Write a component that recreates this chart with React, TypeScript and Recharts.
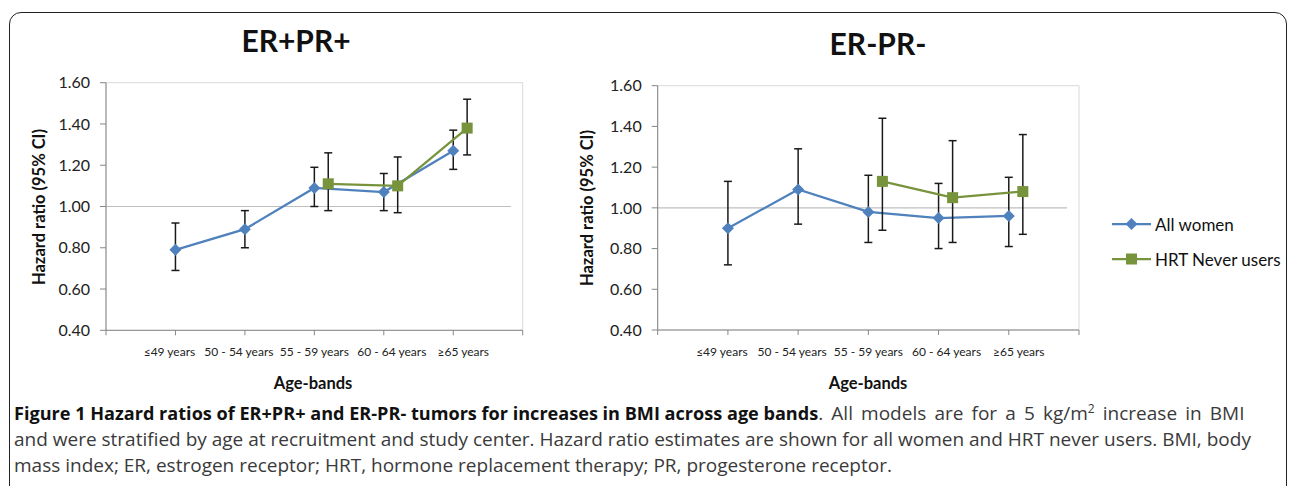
import {
  ComposedChart,
  Line,
  XAxis,
  YAxis,
  ErrorBar,
  ReferenceLine,
  ReferenceArea,
} from "recharts";

// Values (hazard ratio, lower / upper 95% CI)
const AGE_BANDS = ["≤49 years", "50 - 54 years", "55 - 59 years", "60 - 64 years", "≥65 years"];
const Y_TICKS = [0.4, 0.6, 0.8, 1.0, 1.2, 1.4, 1.6];

const POS_ALL_HR = [0.79, 0.89, 1.09, 1.07, 1.27];
const POS_ALL_LO = [0.69, 0.8, 1.0, 0.98, 1.18];
const POS_ALL_HI = [0.92, 0.98, 1.19, 1.16, 1.37];
const POS_HRT_HR = [null, null, 1.11, 1.1, 1.38];
const POS_HRT_LO = [null, null, 0.98, 0.97, 1.25];
const POS_HRT_HI = [null, null, 1.26, 1.24, 1.52];

const NEG_ALL_HR = [0.9, 1.09, 0.98, 0.95, 0.96];
const NEG_ALL_LO = [0.72, 0.92, 0.83, 0.8, 0.81];
const NEG_ALL_HI = [1.13, 1.29, 1.16, 1.12, 1.15];
const NEG_HRT_HR = [null, null, 1.13, 1.05, 1.08];
const NEG_HRT_LO = [null, null, 0.89, 0.83, 0.87];
const NEG_HRT_HI = [null, null, 1.44, 1.33, 1.36];

const BLUE = "#4f81bd";
const GREEN = "#77933c";
const AXIS = "#868686";
const FONT = "Lato, 'Liberation Sans', sans-serif";

// Excel nudges the category labels a little; mimic that
const TICK_NUDGE = [-6, -6, 0, 8, 10];

type Row = { x: number; hr: number; err: [number, number] };

// Build rows for one series; HRT points sit slightly right of the category
function rows(hr: (number | null)[], lo: (number | null)[], hi: (number | null)[], shift: number): Row[] {
  const out: Row[] = [];
  hr.forEach((v, i) => {
    if (v == null) return;
    out.push({ x: i + 1 + shift, hr: v, err: [v - (lo[i] as number), (hi[i] as number) - v] });
  });
  return out;
}

function XTick(props: any) {
  const { x, y, payload } = props;
  const i = payload.value - 1;
  if (i < 0 || i >= AGE_BANDS.length) return <g />;
  return (
    <text x={x + TICK_NUDGE[i]} y={y + 19} textAnchor="middle" fontSize={12} fill="#222" fontFamily={FONT}>
      {AGE_BANDS[i]}
    </text>
  );
}

function Diamond(props: any) {
  const { cx, cy } = props;
  if (cx == null || cy == null) return <g />;
  const r = 6;
  return <polygon points={`${cx},${cy - r} ${cx + r},${cy} ${cx},${cy + r} ${cx - r},${cy}`} fill={BLUE} />;
}

function Square(props: any) {
  const { cx, cy } = props;
  if (cx == null || cy == null) return <g />;
  const s = 11;
  return <rect x={cx - s / 2} y={cy - s / 2} width={s} height={s} fill={GREEN} />;
}

function Panel({
  all,
  hrt,
  margin,
}: {
  all: Row[];
  hrt: Row[];
  margin: { top: number; right: number; left: number; bottom: number };
}) {
  return (
    <ComposedChart width={540} height={320} margin={margin}>
      <ReferenceArea x1={0} x2={6} y1={0.4} y2={1.6} fill="#fff" stroke="#d9d9d9" strokeWidth={1} />
      <ReferenceLine
        segment={[
          { x: 0, y: 1 },
          { x: 5.83, y: 1 },
        ]}
        stroke="#bfbfbf"
        strokeWidth={1.2}
      />
      <XAxis
        type="number"
        dataKey="x"
        domain={[0, 6]}
        ticks={[0, 1, 2, 3, 4, 5, 6]}
        allowDataOverflow
        height={40}
        stroke={AXIS}
        tickSize={5}
        tick={<XTick />}
      />
      <YAxis
        type="number"
        domain={[0.4, 1.6]}
        ticks={Y_TICKS}
        width={50}
        stroke={AXIS}
        tickSize={6}
        tickMargin={10}
        tickFormatter={(v: number) => v.toFixed(2)}
        tick={{ fill: "#222", fontSize: 16, fontFamily: FONT }}
      />
      <Line
        data={all}
        dataKey="hr"
        stroke={BLUE}
        strokeWidth={2.25}
        dot={<Diamond />}
        activeDot={false}
        isAnimationActive={false}
      >
        <ErrorBar dataKey="err" width={4} stroke="#1a1a1a" strokeWidth={1.5} />
      </Line>
      <Line
        data={hrt}
        dataKey="hr"
        stroke={GREEN}
        strokeWidth={2.25}
        dot={<Square />}
        activeDot={false}
        isAnimationActive={false}
      >
        <ErrorBar dataKey="err" width={4} stroke="#1a1a1a" strokeWidth={1.5} />
      </Line>
    </ComposedChart>
  );
}

const abs = (left: number, top: number, extra: any = {}) => ({ position: "absolute" as const, left, top, ...extra });

function YLabel({ cx, cy }: { cx: number; cy: number }) {
  return (
    <div
      style={abs(cx - 110, cy - 10, {
        width: 220,
        height: 20,
        lineHeight: "20px",
        textAlign: "center",
        transform: "rotate(-90deg)",
        fontWeight: 700,
        fontSize: 16.5,
        color: "#111",
      })}
    >
      Hazard ratio (95% CI)
    </div>
  );
}

function Centered({ cx, cy, size, children }: { cx: number; cy: number; size: number; children: any }) {
  return (
    <div
      style={abs(cx - 150, cy - size, {
        width: 300,
        height: size * 2,
        lineHeight: `${size * 2}px`,
        textAlign: "center",
        fontWeight: 700,
        fontSize: size,
        color: "#111",
      })}
    >
      {children}
    </div>
  );
}

export default function App() {
  const posAll = rows(POS_ALL_HR, POS_ALL_LO, POS_ALL_HI, 0);
  const posHrt = rows(POS_HRT_HR, POS_HRT_LO, POS_HRT_HI, 0.2);
  const negAll = rows(NEG_ALL_HR, NEG_ALL_LO, NEG_ALL_HI, 0);
  const negHrt = rows(NEG_HRT_HR, NEG_HRT_LO, NEG_HRT_HI, 0.2);

  const captionLine = { position: "absolute" as const, left: 14, whiteSpace: "nowrap" as const, fontSize: 19, color: "#3a3a3a" };

  return (
    <div style={{ position: "absolute", left: 0, top: 0, width: 1290, height: 486, overflow: "hidden", background: "#fff", fontFamily: FONT }}>
      {/* frame around figure + caption */}
      <div
        style={abs(9, 12, {
          width: 1278,
          height: 500,
          border: "1.5px solid #222",
          borderRadius: 12,
          boxSizing: "border-box",
        })}
      />

      <Centered cx={296} cy={40} size={30}>ER+PR+</Centered>
      <Centered cx={878} cy={43} size={30}>ER-PR-</Centered>

      <div style={abs(0, 60)}>
        <Panel all={posAll} hrt={posHrt} margin={{ top: 22.7, right: 17.3, left: 56, bottom: 9.7 }} />
      </div>
      <div style={abs(560, 60)}>
        <Panel all={negAll} hrt={negHrt} margin={{ top: 25.7, right: 21, left: 47.7, bottom: 10 }} />
      </div>

      <YLabel cx={39} cy={207} />
      <YLabel cx={587} cy={208} />
      <Centered cx={313} cy={383} size={16.5}>Age-bands</Centered>
      <Centered cx={868} cy={383} size={16.5}>Age-bands</Centered>

      {/* legend */}
      <div style={abs(1112, 211, { fontSize: 17, color: "#111" })}>
        <div style={{ display: "flex", alignItems: "center", height: 26 }}>
          <svg width={40} height={14}>
            <line x1={0} y1={7} x2={39} y2={7} stroke={BLUE} strokeWidth={2.25} />
            <polygon points="19.5,1 25.5,7 19.5,13 13.5,7" fill={BLUE} />
          </svg>
          <span style={{ marginLeft: 3 }}>All women</span>
        </div>
        <div style={{ display: "flex", alignItems: "center", height: 26, marginTop: 9 }}>
          <svg width={40} height={14}>
            <line x1={0} y1={7} x2={39} y2={7} stroke={GREEN} strokeWidth={2.25} />
            <rect x={14} y={1.5} width={11} height={11} fill={GREEN} />
          </svg>
          <span style={{ marginLeft: 3 }}>HRT Never users</span>
        </div>
      </div>

      {/* caption */}
      <div style={{ fontFamily: "'Open Sans', sans-serif" }}>
        <div style={{ ...captionLine, top: 400 }}>
          <b style={{ color: "#111", fontSize: 18.1 }}>
            Figure 1 Hazard ratios of ER+PR+ and ER-PR- tumors for increases in BMI across age bands
          </b>
          <span style={{ wordSpacing: 3.2 }}>
            . All models are for a 5 kg/m<sup style={{ fontSize: 12, lineHeight: 0 }}>2</sup> increase in BMI
          </span>
        </div>
        <div style={{ ...captionLine, top: 426 }}>
          and were stratified by age at recruitment and study center. Hazard ratio estimates are shown for all women and HRT never
          users. BMI, body
        </div>
        <div style={{ ...captionLine, top: 452 }}>
          mass index; ER, estrogen receptor; HRT, hormone replacement therapy; PR, progesterone receptor.
        </div>
      </div>
    </div>
  );
}
